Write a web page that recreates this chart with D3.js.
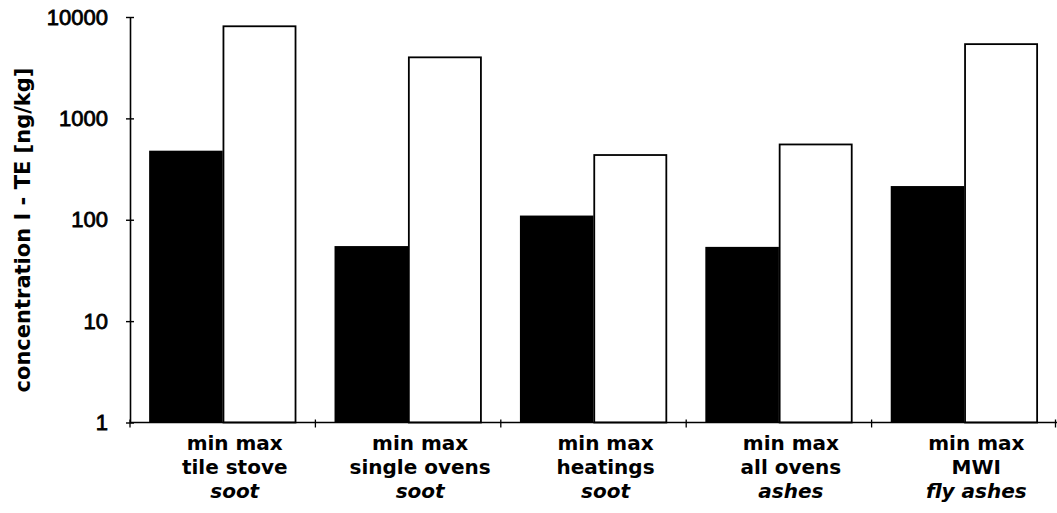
<!DOCTYPE html>
<html>
<head>
<meta charset="utf-8">
<script src="https://cdn.jsdelivr.net/npm/d3@7"></script>
<style>
  html, body { margin: 0; padding: 0; background: #fff; }
  svg { display: block; }
</style>
</head>
<body>
<svg id="chart" width="1057" height="513"></svg>
<script>
// Source categories and the material sampled for each
const categories = ["tile stove", "single ovens", "heatings", "all ovens", "MWI"];
const materials = ["soot", "soot", "soot", "ashes", "fly ashes"];
// Lowest and highest concentration per source, ng/kg I-TE
const minValues = [480, 55, 110, 54, 215];
const maxValues = [8100, 4000, 435, 553, 5400];
// Log axis ticks
const yTicks = [1, 10, 100, 1000, 10000];
const seriesKeys = ["min", "max"];

const svg = d3.select("#chart");

const plotLeft = 130, plotRight = 1057, plotTop = 17, plotBottom = 422.5;

const x = d3.scaleBand().domain(categories).range([plotLeft, plotRight]).paddingInner(0).paddingOuter(0);
const xSub = d3.scaleBand().domain(seriesKeys).range([0, x.bandwidth()]).paddingInner(0).paddingOuter(0.26);
const y = d3.scaleLog().domain([1, 10000]).range([plotBottom, plotTop]);

const rows = categories.map((c, i) => ({ cat: c, min: minValues[i], max: maxValues[i], mat: materials[i] }));

// Bars: filled black for min, outlined white for max
const groups = svg.append("g").selectAll("g").data(rows).join("g")
  .attr("transform", d => `translate(${x(d.cat)},0)`);

groups.append("rect")
  .attr("x", xSub("min"))
  .attr("width", xSub.bandwidth())
  .attr("y", d => y(d.min))
  .attr("height", d => y(1) - y(d.min))
  .attr("fill", "#000");

groups.append("rect")
  .attr("x", xSub("max") + 0.75)
  .attr("width", xSub.bandwidth() - 1.5)
  .attr("y", d => y(d.max))
  .attr("height", d => y(1) - y(d.max))
  .attr("fill", "#fff")
  .attr("stroke", "#000")
  .attr("stroke-width", 1.8);

// Y axis with ticks crossing the line
const yAxis = svg.append("g")
  .attr("transform", `translate(${plotLeft},0)`)
  .call(d3.axisLeft(y).tickValues(yTicks).tickFormat(d3.format("d")).tickSizeInner(4).tickSizeOuter(0).tickPadding(18));
yAxis.select(".domain").attr("stroke", "#000").attr("stroke-width", 1.6);
yAxis.selectAll(".tick line").attr("x1", -4).attr("x2", 4).attr("stroke", "#000").attr("stroke-width", 1.4);
yAxis.selectAll(".tick text")
  .attr("font-family", "'Liberation Sans', Arial, sans-serif")
  .attr("font-size", 22)
  .attr("fill", "#000")
  .attr("stroke", "#000")
  .attr("stroke-width", 0.8);

// X axis: baseline with ticks at category boundaries
const xAxis = svg.append("g");
xAxis.append("line")
  .attr("x1", plotLeft).attr("x2", plotRight)
  .attr("y1", y(1)).attr("y2", y(1))
  .attr("stroke", "#000").attr("stroke-width", 1.6);
const edges = categories.map(c => x(c)).concat([x(categories[categories.length - 1]) + x.bandwidth() - 1.5]);
xAxis.selectAll("line.tick").data(edges).join("line")
  .attr("class", "tick")
  .attr("x1", d => d).attr("x2", d => d)
  .attr("y1", y(1) - 3).attr("y2", y(1) + 5)
  .attr("stroke", "#000").attr("stroke-width", 1.3);

// Category labels, three lines each
const labelFont = "'DejaVu Sans', Verdana, sans-serif";
const labels = svg.append("g").selectAll("g").data(rows).join("g")
  .attr("transform", d => `translate(${x(d.cat) + x.bandwidth() / 2 + 12},0)`)
  .attr("font-family", labelFont)
  .attr("font-weight", "bold")
  .attr("font-size", 20)
  .attr("text-anchor", "middle")
  .attr("fill", "#000");
labels.append("text").attr("y", 450).text("min max");
labels.append("text").attr("y", 474).text(d => d.cat);
labels.append("text").attr("y", 498).attr("font-style", "italic").text(d => d.mat);

// Y axis title
svg.append("text")
  .attr("transform", `translate(30,${(65 + 395) / 2}) rotate(-90)`)
  .attr("text-anchor", "middle")
  .attr("font-family", labelFont)
  .attr("font-weight", "bold")
  .attr("font-size", 21)
  .attr("fill", "#000")
  .text("concentration I - TE [ng/kg]");
</script>
</body>
</html>
